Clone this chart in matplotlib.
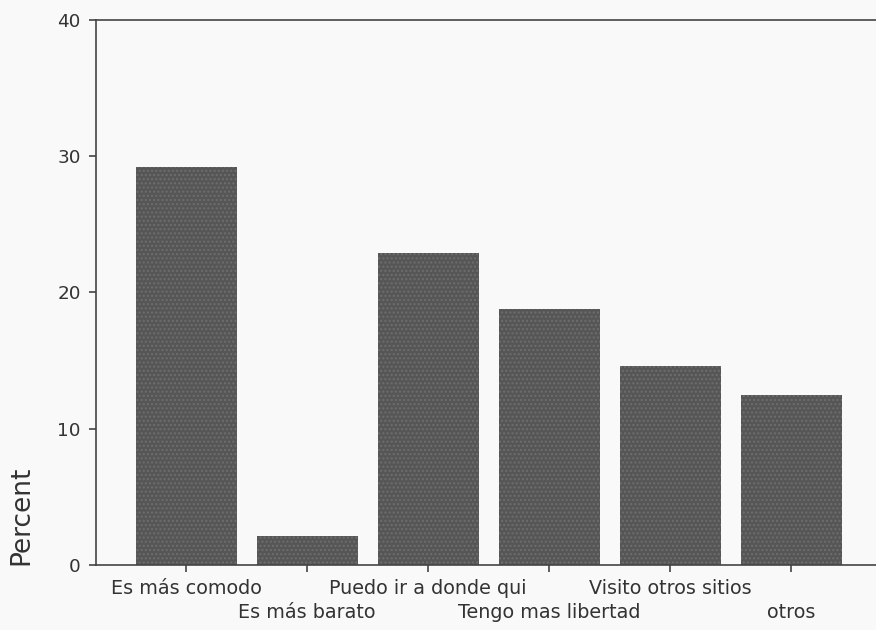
import matplotlib.pyplot as plt
from matplotlib.transforms import ScaledTranslation

# reasons given (percent of respondents)
categories = ['Es más comodo', 'Es más barato', 'Puedo ir a donde qui',
              'Tengo mas libertad', 'Visito otros sitios', 'otros']
percents = [29.2, 2.1, 22.9, 18.8, 14.6, 12.5]
yticks = [0, 10, 20, 30, 40]

plt.rcParams['font.family'] = 'DejaVu Sans'

fig = plt.figure(figsize=(8.76, 6.3), dpi=100, facecolor='#f9f9f9')
ax = fig.add_axes([0.1096, 0.1032, 0.8904, 0.8651])
ax.set_facecolor('#f9f9f9')

x = list(range(len(categories)))
ax.bar(x, percents, width=0.835, color='#565656', edgecolor='#6e6e6e',
       linewidth=0, hatch='....')

ax.set_xlim(-0.744, 5.70)
ax.set_ylim(0, 40)
ax.set_yticks(yticks)
ax.set_yticklabels([str(t) for t in yticks], fontsize=13.2, color='#333333')

ax.set_xticks(x)
ax.set_xticklabels(categories, fontsize=13.8, color='#333333')

ax.tick_params(axis='both', direction='out', length=5, width=1.2, color='#444444')
ax.tick_params(axis='x', pad=5)
ax.tick_params(axis='y', pad=6)

# staggered category labels: every second one moves to a lower row
shift = ScaledTranslation(0, -24 / 100, fig.dpi_scale_trans)
for i, lab in enumerate(ax.get_xticklabels()):
    if i % 2 == 1:
        lab.set_transform(lab.get_transform() + shift)

for side in ['left', 'top', 'bottom']:
    ax.spines[side].set_color('#444444')
    ax.spines[side].set_linewidth(1.2)
ax.spines['right'].set_visible(False)

ax.set_ylabel('Percent', fontsize=19, color='#333333')
ax.yaxis.set_label_coords(-0.079, 0.092)

fig.savefig('out.png', dpi=100, facecolor=fig.get_facecolor())
